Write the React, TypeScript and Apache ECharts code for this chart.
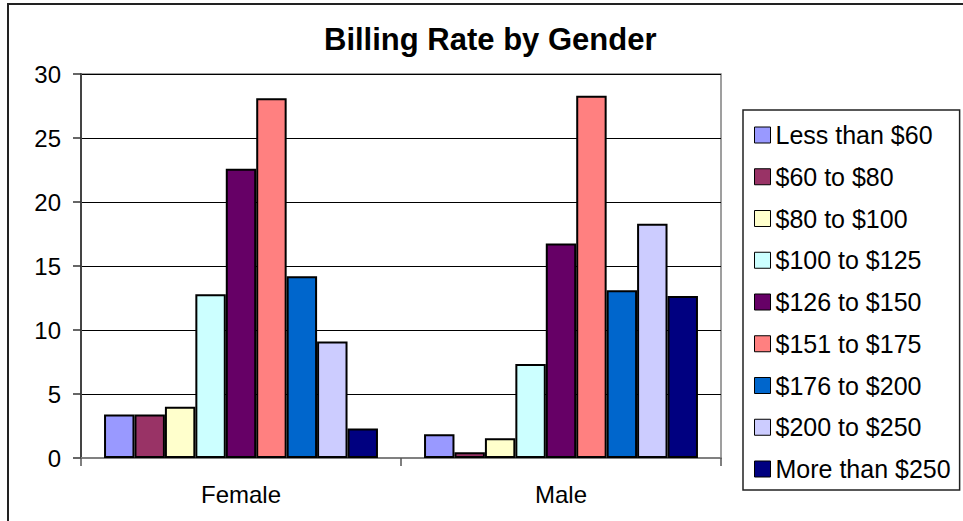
import React, { useEffect, useRef } from "react";
import * as echarts from "echarts";

const categories = ["Female", "Male"];
const seriesNames = [
  "Less than $60",
  "$60 to $80",
  "$80 to $100",
  "$100 to $125",
  "$126 to $150",
  "$151 to $175",
  "$176 to $200",
  "$200 to $250",
  "More than $250",
];
const femaleValues = [3.4, 3.4, 4.0, 12.8, 22.6, 28.1, 14.2, 9.1, 2.3];
const maleValues = [1.85, 0.45, 1.55, 7.35, 16.75, 28.3, 13.1, 18.3, 12.65];
const colors = [
  "#9999FF",
  "#993366",
  "#FFFFCC",
  "#CCFFFF",
  "#660066",
  "#FF8080",
  "#0066CC",
  "#CCCCFF",
  "#000080",
];
const yTicks = { min: 0, max: 30, interval: 5 };

export default function App() {
  const ref = useRef<HTMLDivElement>(null);
  useEffect(() => {
    if (!ref.current) return;
    const chart = echarts.init(ref.current, null, { renderer: "svg" });
    const font = "Liberation Sans, Arial, sans-serif";
    chart.setOption({
      animation: false,
      backgroundColor: "#ffffff",
      textStyle: { fontFamily: font },
      title: {
        text: "Billing Rate by Gender",
        left: 324,
        top: 24,
        padding: 0,
        textStyle: { fontSize: 31, fontWeight: "bold", color: "#000", fontFamily: font },
      },
      graphic: [
        {
          type: "rect",
          shape: { x: 8, y: 4, width: 1000, height: 600 },
          style: { fill: "none", stroke: "#222", lineWidth: 2 },
          silent: true,
          z: 100,
        },
      ],
      legend: {
        orient: "vertical",
        left: 743,
        top: 110,
        padding: [12.5, 9, 8.5, 11],
        itemWidth: 16,
        itemHeight: 16,
        itemGap: 16.75,
        icon: "rect",
        borderColor: "#222",
        borderWidth: 1.5,
        backgroundColor: "#fff",
        textStyle: { fontSize: 25, color: "#000", fontFamily: font },
        itemStyle: { borderColor: "#000", borderWidth: 1 },
        data: seriesNames,
      },
      grid: {
        left: 81,
        right: 242,
        top: 74,
        bottom: 63,
        show: true,
        borderColor: "#808080",
        borderWidth: 1.5,
        backgroundColor: "#fff",
      },
      xAxis: {
        type: "category",
        data: categories,
        axisLine: { show: true, lineStyle: { color: "#808080", width: 2 } },
        axisTick: { show: true, length: 8, lineStyle: { color: "#555", width: 1.5 } },
        axisLabel: { fontSize: 24, color: "#000", margin: 24, fontFamily: font },
      },
      yAxis: {
        type: "value",
        min: yTicks.min,
        max: yTicks.max,
        interval: yTicks.interval,
        axisLine: { show: true, lineStyle: { color: "#444", width: 2 } },
        axisTick: { show: true, length: 8, lineStyle: { color: "#333", width: 1.5 } },
        axisLabel: { fontSize: 24, color: "#000", margin: 20, fontFamily: font },
        splitLine: { show: true, lineStyle: { color: "#000", width: 1 } },
      },
      series: seriesNames.map((name, i) => ({
        name,
        type: "bar",
        data: [femaleValues[i], maleValues[i]],
        barGap: "0%",
        barCategoryGap: "14.4%",
        itemStyle: { color: colors[i], borderColor: "#000", borderWidth: 2 },
      })),
    });
    return () => chart.dispose();
  }, []);
  return (
    <div
      ref={ref}
      style={{ position: "fixed", left: 0, top: 0, width: 963, height: 521 }}
    />
  );
}
